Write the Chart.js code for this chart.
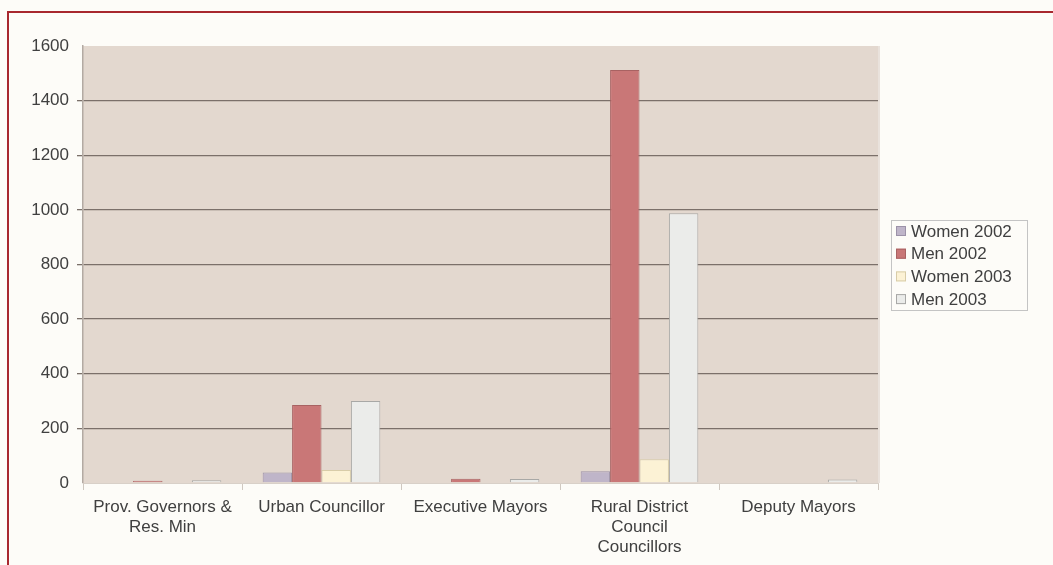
<!DOCTYPE html>
<html>
<head>
<meta charset="utf-8">
<script src="https://cdn.jsdelivr.net/npm/chart.js@4.4.1/dist/chart.umd.min.js"></script>
<style>
  html, body { margin: 0; padding: 0; background: #fdfcf8; overflow: hidden; }
  #wrap { position: relative; width: 1053px; height: 565px; }
  #frame { position: absolute; left: 7px; top: 11px; width: 1100px; height: 600px; border: 2px solid #a8282e; box-sizing: border-box; }
  canvas { position: absolute; left: 0; top: 0; }
</style>
</head>
<body>
<div id="wrap">
  <div id="frame"></div>
  <canvas id="chart" width="1053" height="565"></canvas>
</div>
<script>
// categories and values
const categories = [
  ['Prov. Governors &', 'Res. Min'],
  'Urban Councillor',
  'Executive Mayors',
  ['Rural District', 'Council', 'Councillors'],
  'Deputy Mayors'
];
const women2002 = [0, 38, 0, 43, 0];
const men2002 = [8, 286, 16, 1512, 0];
const women2003 = [0, 48, 0, 87, 0];
const men2003 = [10, 300, 15, 988, 13];

const seriesNames = ['Women 2002', 'Men 2002', 'Women 2003', 'Men 2003'];
const fills = ['#bfb5c9', '#c97777', '#fcf2d5', '#ebecea'];
const edges = ['#9c92a8', '#a86262', '#d8cca8', '#a8a8a6'];

Chart.defaults.font.family = '"Liberation Sans", Arial, sans-serif';
Chart.defaults.font.size = 17;
Chart.defaults.color = '#404040';

// fill the plot area with the beige panel
const plotBg = {
  id: 'plotBg',
  beforeDraw(chart) {
    const { ctx, chartArea: a } = chart;
    ctx.save();
    ctx.fillStyle = '#e3d8cf';
    ctx.fillRect(a.left, a.top, a.right - a.left, a.bottom - a.top);
    ctx.strokeStyle = '#e9e2dc';
    ctx.lineWidth = 2;
    ctx.beginPath();
    ctx.moveTo(a.right + 1, a.top);
    ctx.lineTo(a.right + 1, a.bottom);
    ctx.stroke();
    ctx.restore();
  }
};

// boxed legend on the right
const boxLegend = {
  id: 'boxLegend',
  afterDraw(chart) {
    const ctx = chart.ctx;
    ctx.save();
    ctx.strokeStyle = '#c4c4c4';
    ctx.lineWidth = 1;
    ctx.strokeRect(891.5, 220.5, 136, 90);
    ctx.font = '17px "Liberation Sans", Arial, sans-serif';
    ctx.textBaseline = 'middle';
    chart.data.datasets.forEach((ds, i) => {
      const y = 231 + i * 22.7;
      ctx.fillStyle = ds.backgroundColor;
      ctx.fillRect(896, y - 5, 10, 10);
      ctx.strokeStyle = ds.borderColor;
      ctx.strokeRect(896.5, y - 4.5, 9, 9);
      ctx.fillStyle = '#404040';
      ctx.fillText(ds.label, 911, y + 1);
    });
    ctx.restore();
  }
};

const seriesData = [women2002, men2002, women2003, men2003];

new Chart(document.getElementById('chart'), {
  type: 'bar',
  data: {
    labels: categories,
    datasets: seriesData.map((d, i) => ({
      label: seriesNames[i],
      data: d,
      backgroundColor: fills[i],
      borderColor: edges[i],
      borderWidth: 1,
      categoryPercentage: 0.74,
      barPercentage: 1.0
    }))
  },
  options: {
    responsive: false,
    animation: false,
    devicePixelRatio: 1,
    layout: { padding: { left: 0, right: 175, top: 46, bottom: 0 } },
    plugins: { legend: { display: false }, tooltip: { enabled: false } },
    scales: {
      x: {
        grid: { drawOnChartArea: false, drawTicks: true, tickLength: 7, color: '#cfc8c0' },
        border: { color: '#d8d0c8', width: 1 },
        ticks: { padding: 7, maxRotation: 0, autoSkip: false, font: { size: 17, lineHeight: 1.18 } },
        afterFit(scale) { scale.height = 82; }
      },
      y: {
        min: 0,
        max: 1600,
        ticks: { stepSize: 200, padding: 8, font: { size: 17 }, callback: (v) => String(v) },
        grid: {
          tickLength: 6,
          lineWidth: 1.3,
          color: (c) => (c.tick && (c.tick.value === 0 || c.tick.value === 1600)) ? 'rgba(0,0,0,0)' : '#7b706a'
        },
        border: { color: '#b3aaa3', width: 1.5 },
        afterFit(scale) { scale.width = 83; }
      }
    }
  },
  plugins: [plotBg, boxLegend]
});
</script>
</body>
</html>
